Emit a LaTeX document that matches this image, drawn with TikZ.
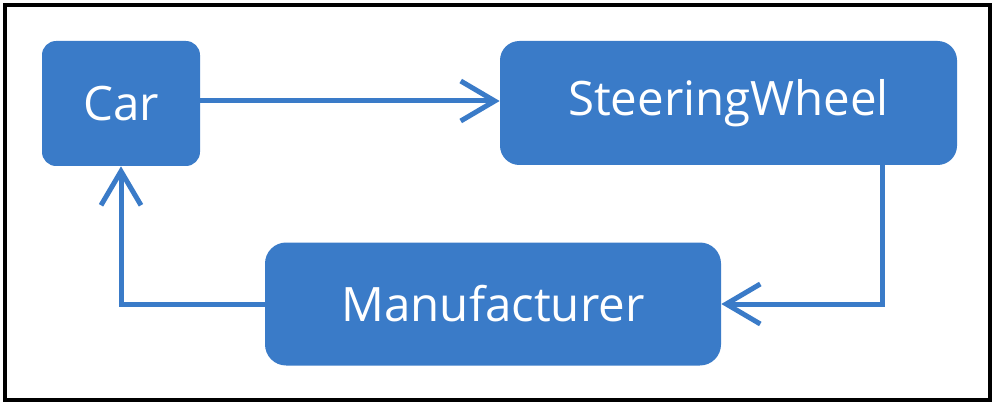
\documentclass[tikz,border=0pt]{standalone}
\usepackage{fontspec}
\setmainfont{Open Sans}
\usepackage{tikz}
\usetikzlibrary{arrows.meta, positioning}
\definecolor{boxblue}{HTML}{3A7BC8}

\begin{document}
\begin{tikzpicture}[
  classbox/.style={
    rectangle, rounded corners=8pt, draw=none, fill=boxblue,
    text=white, inner sep=0pt, font=\fontsize{27}{30}\selectfont},
  assoc/.style={-{Straight Barb[length=0.68cm, width=0.8cm, line width=0.1cm]},
    line width=0.1cm, boxblue},
]
  \useasboundingbox (0,0) rectangle (19.84,8.08);
  \draw[line width=0.08cm, black] (0.1,0.08) rectangle (19.8,7.98);

  \node[classbox, minimum width=3.16cm, minimum height=2.5cm] (car) at (2.42,6.01) {Car};
  \node[classbox, minimum width=9.14cm, minimum height=2.48cm, rounded corners=11pt] (wheel) at (14.57,6.02) {SteeringWheel};
  \node[classbox, minimum width=9.12cm, minimum height=2.46cm, rounded corners=12pt] (maker) at (9.86,2.0) {Manufacturer};

  \coordinate (wheeldown) at (17.64,2.0);
  \coordinate (carup) at (2.42,2.0);

  % Associations
  \draw[assoc] (car.east |- 0,6.06) -- (wheel.west |- 0,6.06);
  \draw[assoc] (wheeldown |- wheel.south) -- (wheeldown) -- (maker.east);
  \draw[assoc] (maker.west) -- (carup) -- (car.south);
\end{tikzpicture}
\end{document}
